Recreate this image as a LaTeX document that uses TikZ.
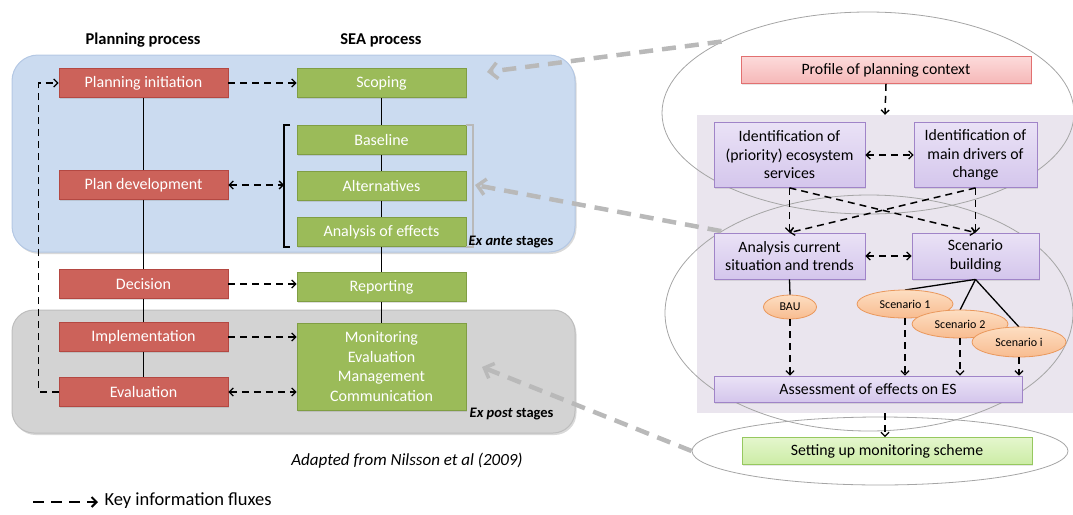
\documentclass[tikz,border=0pt]{standalone}
\usepackage{fontspec}
\setmainfont{Carlito}
\usetikzlibrary{arrows.meta,shapes.geometric,calc,shadows}
\definecolor{bluebg}{RGB}{203,219,240}
\definecolor{blueedge}{RGB}{180,200,228}
\definecolor{graybg}{RGB}{211,211,211}
\definecolor{grayedge}{RGB}{190,190,190}
\definecolor{redfill}{RGB}{204,98,90}
\definecolor{rededge}{RGB}{180,72,66}
\definecolor{greenfill}{RGB}{155,187,89}
\definecolor{greenedge}{RGB}{128,158,68}
\definecolor{lavbg}{RGB}{234,229,238}
\definecolor{purtop}{RGB}{234,226,246}
\definecolor{purbot}{RGB}{212,198,236}
\definecolor{puredge}{RGB}{160,132,200}
\definecolor{pinktop}{RGB}{252,218,218}
\definecolor{pinkbot}{RGB}{246,184,184}
\definecolor{pinkedge}{RGB}{226,112,112}
\definecolor{lgtop}{RGB}{228,246,205}
\definecolor{lgbot}{RGB}{204,236,165}
\definecolor{lgedge}{RGB}{150,200,95}
\definecolor{ortop}{RGB}{253,222,194}
\definecolor{orbot}{RGB}{248,188,144}
\definecolor{oredge}{RGB}{234,152,92}
\definecolor{ellgray}{RGB}{165,165,165}
\definecolor{arrgray}{RGB}{185,185,185}
\newcommand\myfs[2]{\fontsize{#1}{#2}\selectfont}
\tikzset{
  redbox/.style={draw=rededge, fill=redfill, text=white, minimum width=169pt, minimum height=29pt, inner sep=0pt, font=\myfs{16}{19}, line width=0.8pt, drop shadow={opacity=0.25,shadow xshift=1pt,shadow yshift=-1.5pt}},
  greenbox/.style={draw=greenedge, fill=greenfill, text=white, minimum width=169pt, minimum height=29pt, inner sep=0pt, font=\myfs{16}{19.5}, align=center, line width=0.8pt, drop shadow={opacity=0.25,shadow xshift=1pt,shadow yshift=-1.5pt}},
  purbox/.style={draw=puredge, top color=purtop, bottom color=purbot, text=black, inner sep=0pt, font=\myfs{15.8}{18.5}, align=center, line width=0.8pt, drop shadow={opacity=0.2,shadow xshift=1pt,shadow yshift=-1.5pt}},
  pinkbox/.style={draw=pinkedge, top color=pinktop, bottom color=pinkbot, text=black, inner sep=0pt, font=\myfs{15.8}{18}, line width=0.8pt, minimum width=290pt, minimum height=27pt, drop shadow={opacity=0.2,shadow xshift=1pt,shadow yshift=-1.5pt}},
  lgbox/.style={draw=lgedge, top color=lgtop, bottom color=lgbot, text=black, inner sep=0pt, font=\myfs{15.8}{18}, line width=0.8pt, minimum width=290pt, minimum height=27pt, drop shadow={opacity=0.2,shadow xshift=1pt,shadow yshift=-1.5pt}},
  scen/.style={ellipse, draw=oredge, top color=ortop, bottom color=orbot, inner sep=0pt, font=\myfs{12}{14}, line width=0.8pt, minimum width=96pt, minimum height=28pt},
  bigell/.style={ellipse, draw=ellgray, line width=0.8pt, inner sep=0pt},
  flux/.style={dash pattern=on 7pt off 5pt, line width=1.5pt, -{Straight Barb[length=4pt,width=8pt,line width=1.3pt]}},
  flux2/.style={dash pattern=on 7pt off 5pt, line width=1.5pt, {Straight Barb[length=4pt,width=8pt,line width=1.3pt]}-{Straight Barb[length=4pt,width=8pt,line width=1.3pt]}},
  link/.style={line width=1.3pt},
  grayarr/.style={draw=arrgray, line width=4.5pt, dash pattern=on 14pt off 9pt, -{Straight Barb[length=8pt,width=16pt,line width=3.5pt]}},
  heading/.style={font=\bfseries\myfs{16.5}{19}},
}
\begin{document}
\begin{tikzpicture}[x=1pt,y=-1pt]
\useasboundingbox (0,0) rectangle (1073,514);

% ---------- left panel backgrounds ----------
\draw[fill=bluebg, draw=blueedge, line width=1pt, rounded corners=26pt, drop shadow={opacity=0.3,shadow xshift=1.5pt,shadow yshift=-2pt}] (12,55) rectangle (575,252);
\draw[fill=graybg, draw=grayedge, line width=1pt, rounded corners=22pt, drop shadow={opacity=0.3,shadow xshift=1.5pt,shadow yshift=-2pt}] (12,310) rectangle (575,433);

\node[heading] (hp) at (143,40) {Planning process};
\node[heading] (hs) at (381,40) {SEA process};

% planning boxes
\node[redbox] (pi)  at (143.5,83)  {Planning initiation};
\node[redbox] (pd)  at (143.5,185) {Plan development};
\node[redbox] (dec) at (143.5,284) {Decision};
\node[redbox] (imp) at (143.5,337) {Implementation};
\node[redbox] (ev)  at (143.5,392) {Evaluation};

% SEA boxes
\node[greenbox] (sc)  at (381.5,83)  {Scoping};
\node[greenbox] (bl)  at (381.5,140) {Baseline};
\node[greenbox] (alt) at (381.5,186) {Alternatives};
\node[greenbox] (aoe) at (381.5,232) {Analysis of effects};
\node[greenbox] (rep) at (381.5,287) {Reporting};
\node[greenbox, minimum height=87pt] (mon) at (381.5,366.5) {Monitoring\\Evaluation\\Management\\Communication};

% vertical links
\draw[link] (pi) -- (pd);
\draw[link] (pd) -- (dec);
\draw[link] (dec) -- (imp);
\draw[link] (imp) -- (ev);
\draw[link] (sc) -- (bl);
\draw[link] (bl) -- (alt);
\draw[link] (alt) -- (aoe);
\draw[link] (aoe) -- (rep);
\draw[link] (rep) -- (mon);

% brackets
\draw[line width=1.5pt] (290,125) -- (284,125) -- (284,247) -- (290,247);
\coordinate (brk) at (284,185);
\draw[line width=1.8pt, draw=arrgray] (466,125) -- (473,125) -- (473,247) -- (466,247);
\coordinate (gbrk) at (475,185);

% dashed fluxes (left)
\draw[flux] (pi) -- (sc);
\draw[flux2] (pd) -- (brk);
\draw[flux] (dec.east) -- (dec.east -| rep.west);
\draw[flux] (imp.east) -- (imp.east -| mon.west);
\draw[flux2] (ev.east) -- (ev.east -| mon.west);
\draw[flux] (ev.west) -- ++(-20,0) |- (pi.west);

\node[anchor=east, font=\bfseries\myfs{14.5}{16}] (exante) at (557,242) {\textit{Ex ante} stages};
\node[anchor=east, font=\bfseries\myfs{14.5}{16}] (expost) at (557,414) {\textit{Ex post} stages};

\node[font=\itshape\myfs{17}{20}] (adapt) at (407,461) {Adapted from Nilsson et al (2009)};

% legend
\coordinate (lg1) at (33,502);
\coordinate (lg2) at (98,502);
\draw[line width=2.6pt, dash pattern=on 11pt off 7pt, -{Straight Barb[length=5pt,width=10pt,line width=2pt]}] (lg1) -- (lg2);
\node[anchor=west, font=\myfs{18.5}{21}] (key) at (101,501) {Key information fluxes};

% ---------- right panel ----------
\node[fill=lavbg, minimum width=376pt, minimum height=298pt, inner sep=0pt] (lav) at (885,264) {};
\node[bigell, minimum width=412pt, minimum height=202pt] (e1) at (868,113) {};
\node[bigell, minimum width=408pt, minimum height=236pt] (e2) at (869,313) {};
\node[bigell, minimum width=376pt, minimum height=68pt] (e3) at (880,451) {};

\node[pinkbox] (prof) at (886,70) {Profile of planning context};
\node[purbox, minimum width=151pt, minimum height=65pt] (id1) at (789.5,155) {Identification of\\(priority) ecosystem\\services};
\node[purbox, minimum width=123pt, minimum height=65pt] (id2) at (975.5,155) {Identification of\\main drivers of\\change};
\node[purbox, minimum width=151pt, minimum height=46pt] (ana) at (789.5,256) {Analysis current\\situation and trends};
\node[purbox, minimum width=127pt, minimum height=46pt] (scb) at (975.5,256) {Scenario\\building};
\node[purbox, minimum width=308pt, minimum height=26pt] (ass) at (868,389) {Assessment of effects on ES};
\node[lgbox] (setup) at (887,451) {Setting up monitoring scheme};

\node[scen, minimum width=53pt, minimum height=24pt] (bau) at (790,307) {BAU};
\draw[link] (scb.south) -- (905,290);
\draw[link] (scb.south) -- (960,310);
\draw[link] (scb.south) -- (1019,327);
\node[scen] (s1) at (905,304) {Scenario 1};
\node[scen] (s2) at (960,324) {Scenario 2};
\node[scen, minimum width=94pt, minimum height=30pt] (si) at (1019,342) {Scenario i};

\draw[link] (ana.south) -- (bau.north);

\draw[flux] (prof.south) -- (lav.north);
\draw[flux2] (id1) -- (id2);
\draw[flux2] (ana) -- (scb);
\draw[flux] (id1.south) -- (ana.north);
\draw[flux] (id2.south) -- (scb.north);
\draw[flux] (id1.south) -- (scb.north);
\draw[flux] (id2.south) -- (ana.north);
\draw[flux] (bau.south) -- (bau.south |- ass.north);
\draw[flux] (s1.south) -- (s1.south |- ass.north);
\draw[flux] (s2.south) -- (s2.south |- ass.north);
\draw[flux] (si.south) -- (si.south |- ass.north);
\draw[flux] (lav.south) -- (lav.south |- setup.north);

% gray link arrows
\coordinate (g1) at (487,72);
\coordinate (g3) at (482,367);
\draw[grayarr] (e1.154) -- (g1);
\draw[grayarr] (e2.151) -- (gbrk);
\draw[grayarr] (e3.west) -- (g3);
\end{tikzpicture}
\end{document}
